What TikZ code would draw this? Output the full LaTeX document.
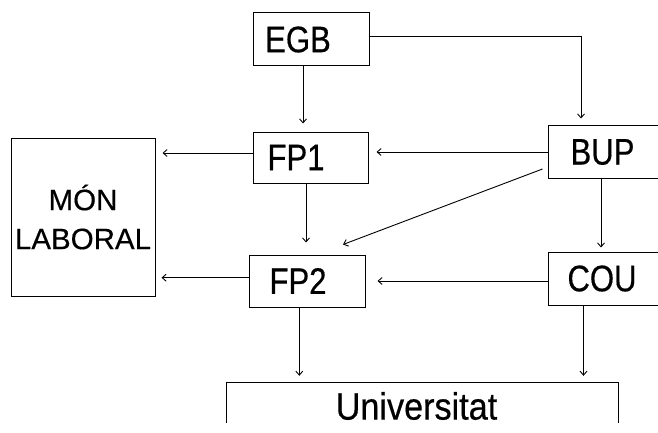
\documentclass[tikz,border=0pt]{standalone}
\usepackage{fontspec}
\setmainfont{Liberation Sans}[FakeStretch=0.84,FakeBold=0.4]
\newfontfamily\univfont{Liberation Sans}[FakeStretch=0.9,FakeBold=0.4]
\newfontfamily\labfont{Liberation Sans}[FakeStretch=1.0,FakeBold=0.4]
\usetikzlibrary{arrows.meta,calc}
\begin{document}
\begin{tikzpicture}[x=1pt,y=-1pt,
  box/.style={draw,line width=1pt,inner sep=0pt,font=\fontsize{37}{40}\selectfont},
  con/.style={line width=0.9pt},
  arr/.style={con,-{Straight Barb[length=4pt,width=7pt]},shorten >=7pt}]
\fill[white] (0,0) rectangle (658,433);
\useasboundingbox (0,0) rectangle (658,433);
\node[box,minimum width=116pt,minimum height=53pt] (EGB) at (311,39.5) {EGB\hspace*{26pt}};
\node[box,minimum width=115pt,minimum height=51pt] (FP1) at (310.5,157.5) {FP1\hspace*{29pt}};
\node[box,minimum width=120pt,minimum height=52pt] (BUP) at (608,152) {BUP\hspace*{11pt}};
\node[box,minimum width=120pt,minimum height=53pt] (COU) at (608,278.5) {COU\hspace*{12pt}};
\node[box,minimum width=116pt,minimum height=52pt] (FP2) at (307,281) {FP2\hspace*{18pt}};
\node[draw,line width=1pt,minimum width=144pt,minimum height=158pt,align=center,
  font=\labfont\fontsize{29.5}{39}\selectfont] (MON) at (83,217) {MÓN\\LABORAL};
\node[minimum width=391pt,minimum height=46pt,inner sep=0pt,
  font=\univfont\fontsize{38}{40}\selectfont] (UNI) at (422.5,406) {Universitat\hspace*{12pt}};
\draw[line width=1pt] ([yshift=-40pt]UNI.north west) -- (UNI.north west) -- (UNI.north east) -- ([yshift=-40pt]UNI.north east);
% connectors
\draw[arr,shorten >=8pt] ([xshift=-8pt]EGB.south) -- ([xshift=-8pt]EGB.south |- FP1.north);
\draw[arr] ([yshift=3pt]EGB.east) -| ([xshift=-27pt]BUP.north);
\draw[arr,shorten >=8pt] (BUP.west) -- (BUP.west -| FP1.east);
\draw[arr] ([yshift=4.5pt]FP1.west) -- ([yshift=4.5pt]FP1.west -| MON.east);
\draw[arr,shorten >=12pt] ([xshift=-4.5pt]FP1.south) -- ([xshift=-4.5pt]FP1.south |- FP2.north);
\draw[arr,shorten >=0pt] ([xshift=-5pt,yshift=-17pt]BUP.west) -- ([xshift=36pt,yshift=10pt]FP2.north);
\draw[arr,shorten >=4pt] ([xshift=-7pt]BUP.south) -- ([xshift=-7pt]BUP.south |- COU.north);
\draw[arr,shorten >=6pt] ([yshift=3.3pt]FP2.west) -- ([yshift=3.3pt]FP2.west -| MON.east);
\draw[arr,shorten >=12pt] ([yshift=-2.5pt]COU.west) -- ([yshift=-2.5pt]COU.west -| FP2.east);
\draw[arr] ([xshift=-7.7pt]FP2.south) -- ([xshift=-7.7pt]FP2.south |- UNI.north);
\draw[arr] ([xshift=-24.5pt]COU.south) -- ([xshift=-24.5pt]COU.south |- UNI.north);
\end{tikzpicture}
\end{document}
